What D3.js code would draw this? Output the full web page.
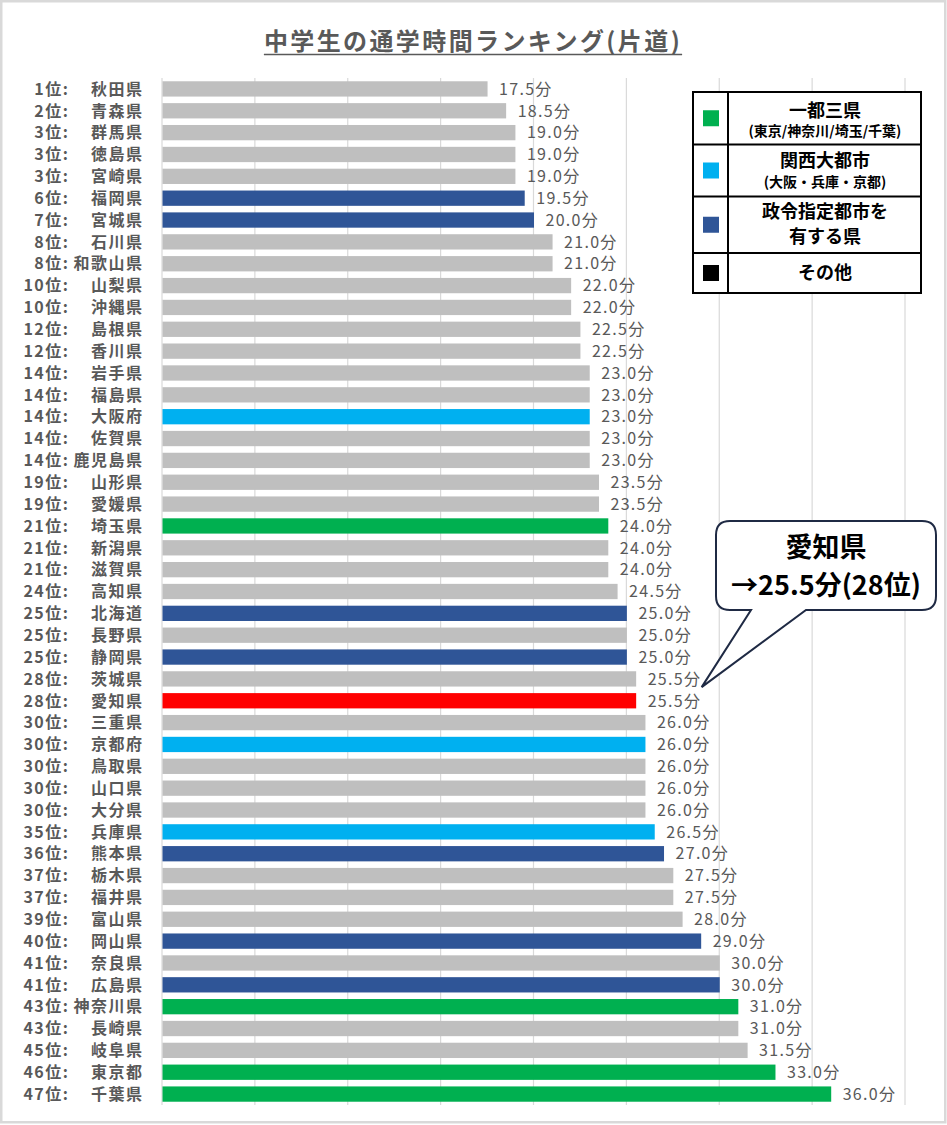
<!DOCTYPE html>
<html>
<head>
<meta charset="utf-8">
<script src="https://cdn.jsdelivr.net/npm/d3@7"></script>
<style>
  body { margin: 0; background: #fff; }
  svg { display: block; font-family: "Noto Sans CJK JP", "Noto Sans", sans-serif; }
</style>
</head>
<body>
<svg width="947" height="1125"></svg>
<script>
// ranking data
var ranks = [1,2,3,3,3,6,7,8,8,10,10,12,12,14,14,14,14,14,19,19,21,21,21,24,25,25,25,28,28,
  30,30,30,30,30,35,36,37,37,39,40,41,41,43,43,45,46,47];
var prefs = ["秋田県","青森県","群馬県","徳島県","宮崎県","福岡県","宮城県","石川県","和歌山県","山梨県",
  "沖縄県","島根県","香川県","岩手県","福島県","大阪府","佐賀県","鹿児島県","山形県","愛媛県",
  "埼玉県","新潟県","滋賀県","高知県","北海道","長野県","静岡県","茨城県","愛知県","三重県",
  "京都府","鳥取県","山口県","大分県","兵庫県","熊本県","栃木県","福井県","富山県","岡山県",
  "奈良県","広島県","神奈川県","長崎県","岐阜県","東京都","千葉県"];
var minutes = [17.5,18.5,19.0,19.0,19.0,19.5,20.0,21.0,21.0,22.0,22.0,22.5,22.5,23.0,23.0,23.0,23.0,23.0,
  23.5,23.5,24.0,24.0,24.0,24.5,25.0,25.0,25.0,25.5,25.5,26.0,26.0,26.0,26.0,26.0,26.5,27.0,27.5,27.5,
  28.0,29.0,30.0,30.0,31.0,31.0,31.5,33.0,36.0];
// g = 一都三県, k = 関西, s = 政令市, o = その他, a = 愛知
var groups = ["o","o","o","o","o","s","s","o","o","o","o","o","o","o","o","k","o","o","o","o",
  "g","o","o","o","s","o","s","o","a","o","k","o","o","o","k","s","o","o","o","s",
  "o","s","g","o","o","g","g"];
var xTicks = [0,5,10,15,20,25,30,35,40];

var legendMain = ["一都三県","関西大都市","政令指定都市を","その他"];
var legendSub = ["(東京/神奈川/埼玉/千葉)","(大阪・兵庫・京都)","有する県",""];
var legendKeys = ["g","k","s","black"];

var colors = {g:"#00b050", k:"#00b0f0", s:"#2f5597", o:"#bfbfbf", a:"#ff0000", black:"#000000"};

var rows = prefs.map(function(p, i){
  return {rank: ranks[i], name: p, value: minutes[i], group: groups[i]};
});

var svg = d3.select("svg");

// outer frame
svg.append("rect").attr("x",1.25).attr("y",1.25).attr("width",944).attr("height",1121)
  .attr("fill","#fff").attr("stroke","#d9d9d9").attr("stroke-width",2.5);

// title
var title = svg.append("text").attr("x",473).attr("y",50).attr("text-anchor","middle")
  .attr("font-size",24).attr("font-weight","bold").attr("fill","#595959")
  .attr("letter-spacing","2.4px")
  .text("中学生の通学時間ランキング(片道)");
var tb = title.node().getBBox();
svg.append("line").attr("x1",tb.x).attr("x2",tb.x+tb.width).attr("y1",54.5).attr("y2",54.5)
  .attr("stroke","#595959").attr("stroke-width",1.5);

var x = d3.scaleLinear().domain([0,40]).range([162,905]);
var y = d3.scaleBand().domain(d3.range(rows.length)).range([78,1105]).paddingInner(0.3).paddingOuter(0.15);

// gridlines
svg.append("g").selectAll("line").data(xTicks).enter().append("line")
  .attr("x1",function(d){return x(d);}).attr("x2",function(d){return x(d);})
  .attr("y1",78).attr("y2",1105)
  .attr("stroke","#d9d9d9").attr("stroke-width",1.2);

// bars
svg.append("g").selectAll("rect").data(rows).enter().append("rect")
  .attr("x",x(0)+0.5)
  .attr("y",function(d,i){return y(i);})
  .attr("width",function(d){return x(d.value)-x(0);})
  .attr("height",y.bandwidth())
  .attr("fill",function(d){return colors[d.group];});

// value labels
svg.append("g").selectAll("text").data(rows).enter().append("text")
  .attr("x",function(d){return x(d.value)+12;})
  .attr("y",function(d,i){return y(i)+y.bandwidth()/2;})
  .attr("dy","0.36em")
  .attr("font-size",16).attr("fill","#595959").attr("letter-spacing","1.3px")
  .text(function(d){return d.value.toFixed(1)+"分";});

// rank + prefecture labels (one text per row, two anchored chunks)
var lab = svg.append("g").attr("font-size",16).attr("font-weight","bold").attr("fill","#595959")
  .attr("letter-spacing","1.5px");
var lt = lab.selectAll("text").data(rows).enter().append("text")
  .attr("text-anchor","end")
  .attr("y",function(d,i){return y(i)+y.bandwidth()/2;}).attr("dy","0.36em");
lt.append("tspan").attr("x",69.5).text(function(d){return d.rank+"位:";});
lt.append("tspan").attr("x",143.5).text(function(d){return d.name;});

// legend table
var lg = svg.append("g");
var rowEdges = [92,144.5,196.5,253,293];
var mainOff = [-8,-10,-13,0], subOff = [13,11.5,12,0];
lg.append("rect").attr("x",693).attr("y",92).attr("width",228).attr("height",201)
  .attr("fill","#fff").attr("stroke","#000").attr("stroke-width",2);
lg.append("line").attr("x1",728).attr("x2",728).attr("y1",92).attr("y2",293)
  .attr("stroke","#000").attr("stroke-width",2);
rowEdges.slice(1,4).forEach(function(e){
  lg.append("line").attr("x1",693).attr("x2",921).attr("y1",e).attr("y2",e)
    .attr("stroke","#000").attr("stroke-width",2);
});
legendKeys.forEach(function(k, i){
  var top = rowEdges[i], bot = rowEdges[i+1], mid = (top+bot)/2;
  lg.append("rect").attr("x",703).attr("y",mid-8).attr("width",16).attr("height",16)
    .attr("fill",colors[k]);
  lg.append("text").attr("x",825).attr("y",mid+mainOff[i]).attr("dy","0.36em").attr("text-anchor","middle")
    .attr("font-size",18).attr("font-weight","bold").text(legendMain[i]);
  if (legendSub[i] !== "") {
    lg.append("text").attr("x",825).attr("y",mid+subOff[i]).attr("dy","0.36em").attr("text-anchor","middle")
      .attr("font-size",k === "s" ? 18 : 14).attr("font-weight","bold").text(legendSub[i]);
  }
});

// callout for 愛知県
var ai = prefs.indexOf("愛知県");
var tipX = x(minutes[ai]) + 66, tipY = y(ai) - 6;
var bx0 = 716, bx1 = 936, by0 = 521, by1 = 610, r = 14;
var path = d3.path();
path.moveTo(bx0+r, by0);
path.lineTo(bx1-r, by0);
path.quadraticCurveTo(bx1, by0, bx1, by0+r);
path.lineTo(bx1, by1-r);
path.quadraticCurveTo(bx1, by1, bx1-r, by1);
path.lineTo(806, by1);
path.lineTo(tipX, tipY);
path.lineTo(751, by1);
path.lineTo(bx0+r, by1);
path.quadraticCurveTo(bx0, by1, bx0, by1-r);
path.lineTo(bx0, by0+r);
path.quadraticCurveTo(bx0, by0, bx0+r, by0);
path.closePath();
svg.append("path").attr("d",path.toString()).attr("fill","#fff")
  .attr("stroke","#1f2a44").attr("stroke-width",2);
svg.append("text").attr("x",826).attr("y",547).attr("dy","0.36em").attr("text-anchor","middle")
  .attr("font-size",27).attr("font-weight","bold").attr("fill","#000").text("愛知県");
svg.append("text").attr("x",826).attr("y",585).attr("dy","0.36em").attr("text-anchor","middle")
  .attr("font-size",27).attr("font-weight","bold").attr("fill","#000")
  .text("→" + minutes[ai].toFixed(1) + "分(" + ranks[ai] + "位)");
</script>
</body>
</html>
